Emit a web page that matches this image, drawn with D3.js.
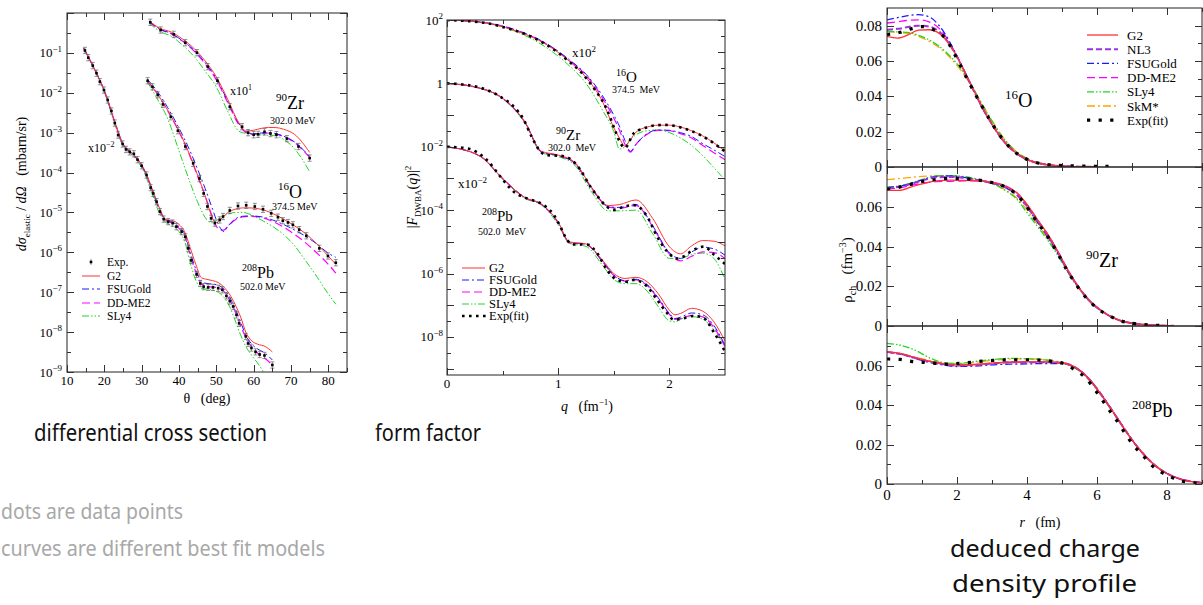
<!DOCTYPE html>
<html><head><meta charset="utf-8">
<script src="https://cdn.jsdelivr.net/npm/d3@7/dist/d3.min.js"></script>
<style>body{margin:0;background:#fff}svg{display:block}</style>
</head><body>
<svg id="chart" width="1203" height="605"></svg>
<script>
// ================= DATA =================
// ---- Panel 1: differential cross section (mbarn/sr) vs theta (deg) ----
// 90Zr (x10^1)
const csZrExpTheta = [32.3, 35.1, 38.6, 41.7, 44.8, 47.7, 50.3, 53.6, 56.9, 58.5, 60.0, 61.2, 62.9, 64.5, 66.1, 68.9, 72.0, 75.0];
const csZrExp      = [5.85e-1, 3.75e-1, 2.92e-1, 1.80e-1, 1.01e-1, 4.52e-2, 2.0e-2, 4.47e-3, 1.41e-3, 1.0e-3, 8.9e-4, 9.1e-4, 1.05e-3, 9.5e-4, 8.9e-4, 7.1e-4, 4.5e-4, 2.3e-4];
const csZrTheta = [32, 35, 38, 41, 44, 47, 50, 53, 56, 58, 60, 62, 64, 66, 68, 71, 75];
const csZrG2    = [6.3e-1, 4.1e-1, 3.3e-1, 2.2e-1, 1.3e-1, 6.3e-2, 2.5e-2, 7.0e-3, 1.8e-3, 1.1e-3, 1.15e-3, 1.28e-3, 1.35e-3, 1.34e-3, 1.22e-3, 9.0e-4, 3.2e-4];
const csZrFSU   = [6.1e-1, 3.9e-1, 3.05e-1, 2.0e-1, 1.18e-1, 5.7e-2, 2.3e-2, 6.3e-3, 1.7e-3, 1.05e-3, 9.4e-4, 9.8e-4, 1.0e-3, 9.4e-4, 8.2e-4, 5.8e-4, 2.5e-4];
const csZrDD    = [6.0e-1, 3.8e-1, 3.0e-1, 1.95e-1, 1.12e-1, 5.3e-2, 2.1e-2, 5.8e-3, 1.6e-3, 1.0e-3, 9.2e-4, 9.6e-4, 9.8e-4, 9.2e-4, 8.0e-4, 5.6e-4, 2.4e-4];
const csZrSLy4  = [5.6e-1, 3.4e-1, 2.6e-1, 1.55e-1, 8.2e-2, 3.5e-2, 1.4e-2, 3.5e-3, 1.1e-3, 9.5e-4, 9.0e-4, 8.8e-4, 8.6e-4, 8.3e-4, 6.8e-4, 3.9e-4, 1.05e-4];
// 16O (x1)
const csOExpTheta = [31.6, 32.9, 34.3, 35.7, 37.8, 39.7, 41.7, 43.8, 45.5, 46.6, 47.6, 48.6, 49.6, 50.9, 51.8, 53.6, 55.8, 58.0, 60.3, 62.5, 64.7, 66.5, 67.8, 69.2, 70.5, 72.2, 74.1, 77.6, 79.9, 82.0];
const csOExp      = [2.0e-2, 1.41e-2, 8.9e-3, 5.1e-3, 2.5e-3, 1.12e-3, 4.5e-4, 1.7e-4, 7.1e-5, 3.0e-5, 1.41e-5, 7.1e-6, 5.4e-6, 6.5e-6, 7.9e-6, 1.12e-5, 1.45e-5, 1.51e-5, 1.41e-5, 1.2e-5, 9.5e-6, 7.6e-6, 6.2e-6, 5.6e-6, 4.9e-6, 3.7e-6, 2.6e-6, 1.26e-6, 8.1e-7, 5.5e-7];
const csOTheta = [31.5, 34, 37, 40, 43, 45, 47, 48, 49, 50, 51, 52, 53, 55, 57, 59, 62, 65, 68, 71, 74, 77, 80, 82];
const csOG2    = [2.0e-2, 1.0e-2, 3.6e-3, 1.1e-3, 2.6e-4, 8.5e-5, 2.6e-5, 1.3e-5, 7.0e-6, 5.6e-6, 6.5e-6, 8.0e-6, 9.8e-6, 1.2e-5, 1.3e-5, 1.3e-5, 1.2e-5, 9.5e-6, 6.8e-6, 4.6e-6, 2.9e-6, 1.6e-6, 8.0e-7, 5.0e-7];
const csOFSU   = [2.2e-2, 1.15e-2, 4.2e-3, 1.3e-3, 3.4e-4, 1.2e-4, 4.0e-5, 2.2e-5, 1.2e-5, 6.5e-6, 4.2e-6, 3.3e-6, 4.4e-6, 6.8e-6, 8.0e-6, 8.2e-6, 7.8e-6, 6.5e-6, 5.0e-6, 3.6e-6, 2.5e-6, 1.6e-6, 9.5e-7, 7.5e-7];
const csODD    = [2.0e-2, 1.0e-2, 3.5e-3, 1.05e-3, 2.5e-4, 8.0e-5, 2.6e-5, 1.4e-5, 7.5e-6, 4.5e-6, 3.6e-6, 3.6e-6, 4.4e-6, 6.5e-6, 7.7e-6, 8.0e-6, 7.5e-6, 6.0e-6, 4.3e-6, 2.8e-6, 1.7e-6, 9.5e-7, 5.0e-7, 3.0e-7];
const csOSLy4  = [1.9e-2, 7.5e-3, 2.2e-3, 3.5e-4, 5.5e-5, 1.8e-5, 7.5e-6, 5.8e-6, 5.5e-6, 6.2e-6, 7.3e-6, 8.3e-6, 9.0e-6, 1.0e-5, 1.0e-5, 9.0e-6, 6.5e-6, 4.5e-6, 2.8e-6, 1.45e-6, 6.0e-7, 2.4e-7, 9.0e-8, 5.0e-8];
// 208Pb (x10^-2)
const csPbExpTheta = [14.8, 15.7, 16.9, 17.9, 18.8, 19.9, 20.9, 21.9, 22.8, 23.7, 24.9, 25.8, 26.8, 27.9, 28.9, 30.0, 31.3, 32.4, 33.1, 34.0, 34.9, 35.9, 37.1, 38.3, 39.3, 40.7, 41.7, 42.5, 43.3, 44.7, 45.7, 46.6, 47.8, 49.1, 50.5, 51.6, 52.7, 53.6, 54.5, 55.4, 56.1, 57.9, 58.5, 59.4, 60.5, 61.6, 62.9, 65.0];
const csPbExp      = [1.15e-1, 7.6e-2, 4.8e-2, 3.1e-2, 1.9e-2, 1.17e-2, 6.6e-3, 3.5e-3, 1.74e-3, 8.7e-4, 5.2e-4, 3.8e-4, 3.3e-4, 2.95e-4, 2.1e-4, 1.48e-4, 8.7e-5, 4.2e-5, 3.0e-5, 1.86e-5, 1.05e-5, 6.8e-6, 5.9e-6, 5.4e-6, 4.4e-6, 3.3e-6, 2.45e-6, 1.26e-6, 6.3e-7, 2.8e-7, 1.66e-7, 1.38e-7, 1.32e-7, 1.32e-7, 1.26e-7, 1.15e-7, 8.1e-8, 6.0e-8, 4.4e-8, 2.7e-8, 1.66e-8, 7.8e-9, 5.2e-9, 4.0e-9, 3.2e-9, 2.75e-9, 2.6e-9, 1.5e-9];
const csPbTheta = [14.5, 17, 20, 23, 25, 27, 29, 31, 33, 35, 36.5, 38, 40, 41.5, 43, 44.5, 46, 47.5, 49, 50.5, 52, 53.5, 55, 56.5, 58, 59.5, 61, 63, 65];
const csPbG2    = [1.3e-1, 4.6e-2, 1.12e-2, 1.65e-3, 5.3e-4, 3.4e-4, 2.15e-4, 1.05e-4, 3.5e-5, 1.15e-5, 6.6e-6, 6.3e-6, 5.0e-6, 3.3e-6, 1.3e-6, 5.0e-7, 2.3e-7, 2.1e-7, 1.95e-7, 1.75e-7, 1.35e-7, 9.0e-8, 5.0e-8, 2.4e-8, 9.5e-9, 6.0e-9, 5.0e-9, 4.4e-9, 3.2e-9];
const csPbFSU   = [1.3e-1, 4.6e-2, 1.12e-2, 1.62e-3, 5.1e-4, 3.3e-4, 2.1e-4, 1.0e-4, 3.3e-5, 1.05e-5, 6.6e-6, 5.9e-6, 4.4e-6, 2.9e-6, 1.0e-6, 3.8e-7, 1.9e-7, 1.65e-7, 1.6e-7, 1.5e-7, 1.2e-7, 7.7e-8, 4.0e-8, 1.8e-8, 8.0e-9, 5.0e-9, 3.8e-9, 3.0e-9, 2.0e-9];
const csPbDD    = [1.3e-1, 4.6e-2, 1.12e-2, 1.6e-3, 5.0e-4, 3.2e-4, 2.05e-4, 9.8e-5, 3.2e-5, 1.0e-5, 6.3e-6, 5.5e-6, 4.0e-6, 2.6e-6, 8.5e-7, 3.2e-7, 1.6e-7, 1.4e-7, 1.35e-7, 1.28e-7, 1.05e-7, 6.6e-8, 3.4e-8, 1.45e-8, 7.0e-9, 4.2e-9, 3.0e-9, 2.2e-9, 1.5e-9];
const csPbSLy4  = [1.3e-1, 4.5e-2, 1.05e-2, 1.45e-3, 4.6e-4, 3.0e-4, 1.9e-4, 8.5e-5, 2.6e-5, 8.5e-6, 5.6e-6, 4.8e-6, 3.3e-6, 1.9e-6, 5.5e-7, 2.0e-7, 1.25e-7, 1.2e-7, 1.12e-7, 1.0e-7, 7.5e-8, 4.5e-8, 2.0e-8, 8.5e-9, 4.2e-9, 2.6e-9, 1.7e-9, 9.0e-10, 5.0e-10];

// ---- Panel 2: form factor |F_DWBA(q)|^2 vs q (fm^-1) ----
// 16O (x10^2)
const ffOExpQ = [0, 0.18, 0.36, 0.54, 0.72, 0.90, 1.08, 1.20, 1.32, 1.44, 1.51, 1.56, 1.60, 1.68, 1.77, 1.86, 1.95, 2.04, 2.16, 2.28, 2.40, 2.50];
const ffOExp  = [100, 93, 79, 55, 34, 16.2, 5.5, 2.34, 0.71, 0.145, 0.034, 0.0129, 0.0092, 0.0269, 0.038, 0.047, 0.049, 0.046, 0.035, 0.0234, 0.0129, 0.0071];
const ffOQ   = [0, 0.3, 0.6, 0.9, 1.1, 1.25, 1.4, 1.5, 1.55, 1.6, 1.65, 1.7, 1.8, 1.9, 2.0, 2.1, 2.2, 2.3, 2.4, 2.5];
const ffOG2  = [100, 85, 48, 16.3, 5.0, 1.55, 0.26, 0.04, 0.019, 0.0105, 0.017, 0.029, 0.042, 0.048, 0.048, 0.042, 0.032, 0.022, 0.0133, 0.0073];
const ffOFSU = [100, 86, 51, 17.5, 5.6, 1.95, 0.40, 0.10, 0.045, 0.016, 0.0072, 0.012, 0.026, 0.034, 0.033, 0.028, 0.021, 0.0125, 0.008, 0.0049];
const ffODD  = [100, 86, 50.5, 17, 5.3, 1.8, 0.34, 0.08, 0.034, 0.012, 0.0068, 0.012, 0.025, 0.033, 0.032, 0.026, 0.019, 0.011, 0.0065, 0.0039];
const ffOSLy4= [100, 85, 46, 13, 3.6, 1.0, 0.14, 0.030, 0.0085, 0.010, 0.017, 0.024, 0.032, 0.034, 0.028, 0.019, 0.011, 0.0052, 0.0022, 0.0009];
// 90Zr (x1)
const ffZrExpQ = [0, 0.18, 0.36, 0.48, 0.60, 0.69, 0.76, 0.84, 0.90, 1.02, 1.11, 1.20, 1.29, 1.38, 1.42, 1.50, 1.59, 1.68, 1.80, 1.89, 1.98, 2.07, 2.13, 2.19, 2.31, 2.40, 2.50];
const ffZrExp  = [1, 0.89, 0.62, 0.38, 0.186, 0.071, 0.021, 7.1e-3, 5.4e-3, 5.2e-3, 4.1e-3, 1.86e-3, 5.5e-4, 2.1e-4, 1.45e-4, 1.02e-4, 1.29e-4, 1.45e-4, 6.3e-5, 1.45e-5, 5.0e-6, 3.0e-6, 3.5e-6, 4.9e-6, 7.1e-6, 4.0e-6, 2.0e-6];
const ffZrQ   = [0, 0.3, 0.5, 0.7, 0.85, 1.0, 1.15, 1.3, 1.45, 1.55, 1.7, 1.85, 2.0, 2.1, 2.2, 2.3, 2.4, 2.5];
const ffZrG2  = [1, 0.70, 0.34, 0.062, 0.0072, 0.0055, 3.2e-3, 5.3e-4, 1.4e-4, 1.5e-4, 2.1e-4, 5.5e-5, 7.0e-6, 4.2e-6, 7.5e-6, 1.1e-5, 1.05e-5, 7.5e-6];
const ffZrFSU = [1, 0.70, 0.34, 0.060, 0.0069, 0.0053, 3.0e-3, 5.0e-4, 1.3e-4, 1.22e-4, 1.5e-4, 3.2e-5, 4.5e-6, 3.0e-6, 4.8e-6, 6.8e-6, 6.0e-6, 3.8e-6];
const ffZrDD  = [1, 0.70, 0.34, 0.060, 0.0069, 0.0053, 3.0e-3, 4.9e-4, 1.27e-4, 1.15e-4, 1.4e-4, 3.0e-5, 4.2e-6, 2.5e-6, 3.5e-6, 4.8e-6, 4.6e-6, 3.0e-6];
const ffZrSLy4= [1, 0.69, 0.33, 0.056, 0.0065, 0.0049, 2.6e-3, 3.8e-4, 9.5e-5, 9.5e-5, 1.0e-4, 1.8e-5, 3.0e-6, 3.0e-6, 4.0e-6, 4.4e-6, 3.0e-6, 6.5e-7];
// 208Pb (x10^-2)
const ffPbExpQ = [0, 0.18, 0.36, 0.48, 0.60, 0.72, 0.84, 0.96, 1.02, 1.08, 1.14, 1.26, 1.35, 1.44, 1.53, 1.62, 1.68, 1.80, 1.89, 1.98, 2.04, 2.13, 2.22, 2.31, 2.40, 2.50];
const ffPbExp  = [1.0e-2, 8.9e-3, 3.8e-3, 1.15e-3, 3.8e-4, 2.35e-4, 1.66e-4, 7.1e-5, 3.0e-5, 1.15e-5, 8.3e-6, 8.3e-6, 4.4e-6, 1.29e-6, 6.3e-7, 5.5e-7, 6.3e-7, 3.9e-7, 1.48e-7, 5.6e-8, 3.5e-8, 3.9e-8, 4.6e-8, 3.9e-8, 1.41e-8, 3.5e-9];
const ffPbQ   = [0, 0.3, 0.5, 0.7, 0.85, 1.0, 1.1, 1.25, 1.4, 1.5, 1.6, 1.7, 1.8, 1.9, 2.0, 2.05, 2.1, 2.2, 2.3, 2.4, 2.5];
const ffPbG2  = [0.01, 5.0e-3, 1.0e-3, 2.5e-4, 1.55e-4, 4.2e-5, 1.0e-5, 8.6e-6, 2.6e-6, 1.0e-6, 7.0e-7, 7.6e-7, 5.5e-7, 2.3e-7, 7.0e-8, 5.0e-8, 5.5e-8, 8.0e-8, 6.5e-8, 3.0e-8, 7.5e-9];
const ffPbFSU = [0.01, 5.0e-3, 1.0e-3, 2.5e-4, 1.52e-4, 4.0e-5, 9.6e-6, 8.4e-6, 2.4e-6, 9.0e-7, 6.0e-7, 6.6e-7, 4.5e-7, 1.7e-7, 5.5e-8, 3.8e-8, 4.2e-8, 5.7e-8, 5.0e-8, 2.3e-8, 5.5e-9];
const ffPbDD  = [0.01, 5.0e-3, 1.0e-3, 2.5e-4, 1.5e-4, 4.0e-5, 9.5e-6, 8.3e-6, 2.35e-6, 8.7e-7, 5.8e-7, 6.3e-7, 4.2e-7, 1.6e-7, 5.2e-8, 3.6e-8, 3.8e-8, 4.8e-8, 4.3e-8, 2.0e-8, 5.0e-9];
const ffPbSLy4= [0.01, 4.9e-3, 9.5e-4, 2.35e-4, 1.45e-4, 3.5e-5, 9.0e-6, 7.2e-6, 1.8e-6, 6.5e-7, 4.8e-7, 4.8e-7, 2.8e-7, 9.0e-8, 3.2e-8, 3.0e-8, 3.6e-8, 4.4e-8, 3.6e-8, 1.7e-8, 5.0e-9];

// ---- Panel 3: charge density rho_ch (fm^-3) vs r (fm) ----
const rhoOExpR = [0, 0.35, 0.68, 1.01, 1.34, 1.66, 1.99, 2.28, 2.61, 2.94, 3.32, 3.80, 4.13, 4.47, 5.13, 6.4];
const rhoOExp  = [0.0750, 0.0761, 0.0782, 0.0795, 0.0776, 0.0730, 0.0616, 0.0503, 0.0380, 0.0266, 0.0153, 0.0064, 0.0034, 0.0017, 0.0007, 0.0003];
const rhoOR    = [0, 0.3, 0.6, 0.9, 1.2, 1.5, 1.8, 2.1, 2.4, 2.7, 3.0, 3.3, 3.6, 3.9, 4.2, 4.6, 5.0, 5.5, 6.0];
const rhoOG2   = [0.0739, 0.0730, 0.0748, 0.0775, 0.0777, 0.0755, 0.0690, 0.0585, 0.0465, 0.0345, 0.0243, 0.0155, 0.0093, 0.0052, 0.0028, 0.0012, 0.0005, 0.0002, 0.0001];
const rhoONL3  = [0.0777, 0.0782, 0.0792, 0.0800, 0.0795, 0.0765, 0.0690, 0.0585, 0.0463, 0.0345, 0.0243, 0.0155, 0.0093, 0.0052, 0.0028, 0.0012, 0.0005, 0.0002, 0.0001];
const rhoOFSU  = [0.0833, 0.0845, 0.0857, 0.0862, 0.0850, 0.0798, 0.0705, 0.0588, 0.0465, 0.0343, 0.0240, 0.0153, 0.0092, 0.0051, 0.0027, 0.0011, 0.0005, 0.0002, 0.0001];
const rhoODD   = [0.0815, 0.0822, 0.0830, 0.0833, 0.0822, 0.0782, 0.0700, 0.0588, 0.0465, 0.0345, 0.0242, 0.0155, 0.0093, 0.0052, 0.0028, 0.0012, 0.0005, 0.0002, 0.0001];
const rhoOSLy4 = [0.0767, 0.0765, 0.0762, 0.0745, 0.0720, 0.0682, 0.0628, 0.0560, 0.0470, 0.0360, 0.0260, 0.0170, 0.0103, 0.0058, 0.0031, 0.0013, 0.0005, 0.0002, 0.0001];
const rhoOSkM  = [0.0767, 0.0762, 0.0755, 0.0740, 0.0712, 0.0675, 0.0620, 0.0550, 0.0465, 0.0362, 0.0263, 0.0173, 0.0105, 0.0060, 0.0032, 0.0014, 0.0006, 0.0002, 0.0001];

const rhoZrExpR = [0, 0.35, 0.69, 1.01, 1.34, 1.69, 2.04, 2.37, 2.73, 3.06, 3.39, 3.68, 3.90, 4.09, 4.28, 4.49, 4.68, 4.85, 5.01, 5.18, 5.37, 5.56, 5.78, 6.04, 6.32, 6.66, 6.99, 7.32, 7.66, 7.99];
const rhoZrExp  = [0.0690, 0.0699, 0.0714, 0.0727, 0.0736, 0.0742, 0.0742, 0.0739, 0.0731, 0.0719, 0.0699, 0.0665, 0.0623, 0.0576, 0.0525, 0.0475, 0.0425, 0.0374, 0.0323, 0.0269, 0.0218, 0.0170, 0.0126, 0.0084, 0.0055, 0.0027, 0.0014, 0.0007, 0.0004, 0.0002];
const rhoZrR    = [0, 0.35, 0.7, 1.0, 1.4, 1.8, 2.2, 2.6, 3.0, 3.4, 3.7, 4.0, 4.3, 4.6, 4.9, 5.2, 5.5, 5.8, 6.2, 6.6, 7.0, 7.5, 8.2];
const rhoZrG2   = [0.0682, 0.0682, 0.0700, 0.0715, 0.0730, 0.0734, 0.0733, 0.0730, 0.0722, 0.0703, 0.0672, 0.0612, 0.0535, 0.0460, 0.0370, 0.0272, 0.0190, 0.0125, 0.0068, 0.0032, 0.0014, 0.0005, 0.0001];
const rhoZrNL3  = [0.0694, 0.0700, 0.0715, 0.0731, 0.0748, 0.0750, 0.0745, 0.0733, 0.0719, 0.0697, 0.0662, 0.0603, 0.0527, 0.0452, 0.0364, 0.0268, 0.0188, 0.0124, 0.0068, 0.0031, 0.0014, 0.0005, 0.0001];
const rhoZrFSU  = [0.0697, 0.0703, 0.0718, 0.0735, 0.0752, 0.0755, 0.0748, 0.0735, 0.0720, 0.0695, 0.0660, 0.0598, 0.0522, 0.0447, 0.0360, 0.0266, 0.0187, 0.0123, 0.0067, 0.0031, 0.0014, 0.0005, 0.0001];
const rhoZrDD   = [0.0690, 0.0695, 0.0708, 0.0718, 0.0726, 0.0728, 0.0730, 0.0730, 0.0723, 0.0704, 0.0672, 0.0612, 0.0535, 0.0460, 0.0370, 0.0272, 0.0190, 0.0125, 0.0068, 0.0032, 0.0014, 0.0005, 0.0001];
const rhoZrSLy4 = [0.0697, 0.0705, 0.0720, 0.0737, 0.0755, 0.0757, 0.0752, 0.0738, 0.0718, 0.0680, 0.0640, 0.0570, 0.0500, 0.0430, 0.0350, 0.0262, 0.0187, 0.0125, 0.0069, 0.0032, 0.0014, 0.0005, 0.0001];
const rhoZrSkM  = [0.0736, 0.0742, 0.0748, 0.0753, 0.0756, 0.0755, 0.0748, 0.0735, 0.0715, 0.0683, 0.0645, 0.0585, 0.0510, 0.0440, 0.0355, 0.0262, 0.0185, 0.0122, 0.0067, 0.0031, 0.0014, 0.0005, 0.0001];

const rhoPbExpR = [0, 0.37, 0.69, 1.04, 1.39, 1.71, 2.06, 2.39, 2.72, 3.07, 3.42, 3.77, 4.11, 4.45, 4.78, 5.11, 5.40, 5.69, 5.89, 6.09, 6.28, 6.49, 6.68, 6.87, 7.06, 7.28, 7.53, 7.80, 8.09, 8.37, 8.71, 9.0];
const rhoPbExp  = [0.0633, 0.0631, 0.0621, 0.0616, 0.0611, 0.0607, 0.0611, 0.0616, 0.0622, 0.0626, 0.0629, 0.0629, 0.0629, 0.0627, 0.0619, 0.0606, 0.0573, 0.0535, 0.0489, 0.0442, 0.0391, 0.0341, 0.0290, 0.0239, 0.0192, 0.0152, 0.0100, 0.0064, 0.0037, 0.0017, 0.0007, 0.0004];
const rhoPbR    = [0, 0.4, 0.8, 1.2, 1.6, 2.0, 2.5, 3.0, 3.5, 4.0, 4.5, 5.0, 5.3, 5.6, 5.9, 6.2, 6.5, 6.8, 7.1, 7.4, 7.7, 8.0, 8.4, 9.0];
const rhoPbG2   = [0.0670, 0.0660, 0.0640, 0.0622, 0.0610, 0.0603, 0.0605, 0.0612, 0.0617, 0.0618, 0.0618, 0.0614, 0.0598, 0.0562, 0.0505, 0.0432, 0.0354, 0.0274, 0.0200, 0.0138, 0.0088, 0.0053, 0.0024, 0.0007];
const rhoPbNL3  = [0.0668, 0.0658, 0.0638, 0.0620, 0.0607, 0.0600, 0.0603, 0.0610, 0.0616, 0.0617, 0.0617, 0.0613, 0.0598, 0.0562, 0.0505, 0.0433, 0.0355, 0.0275, 0.0200, 0.0138, 0.0088, 0.0053, 0.0024, 0.0007];
const rhoPbFSU  = [0.0668, 0.0657, 0.0636, 0.0616, 0.0603, 0.0595, 0.0597, 0.0603, 0.0607, 0.0608, 0.0610, 0.0610, 0.0597, 0.0563, 0.0507, 0.0435, 0.0356, 0.0276, 0.0201, 0.0139, 0.0089, 0.0053, 0.0024, 0.0007];
const rhoPbDD   = [0.0668, 0.0659, 0.0640, 0.0621, 0.0608, 0.0602, 0.0604, 0.0611, 0.0616, 0.0617, 0.0617, 0.0613, 0.0598, 0.0562, 0.0505, 0.0432, 0.0354, 0.0274, 0.0200, 0.0138, 0.0088, 0.0053, 0.0024, 0.0007];
const rhoPbSLy4 = [0.0712, 0.0702, 0.0678, 0.0640, 0.0615, 0.0610, 0.0620, 0.0630, 0.0636, 0.0634, 0.0628, 0.0612, 0.0594, 0.0557, 0.0500, 0.0428, 0.0350, 0.0272, 0.0199, 0.0138, 0.0088, 0.0053, 0.0024, 0.0007];
const rhoPbSkM  = [0.0668, 0.0660, 0.0643, 0.0626, 0.0614, 0.0610, 0.0616, 0.0626, 0.0632, 0.0634, 0.0630, 0.0616, 0.0598, 0.0560, 0.0502, 0.0430, 0.0352, 0.0273, 0.0199, 0.0138, 0.0088, 0.0053, 0.0024, 0.0007];

// tick labels
const csXTicks = [10, 20, 30, 40, 50, 60, 70, 80];
const csYExps = [-1, -2, -3, -4, -5, -6, -7, -8, -9];
const ffXTicks = [0, 1, 2];
const ffYExps = [2, 0, -2, -4, -6, -8];
const rhoXTicks = [0, 2, 4, 6, 8];

// ================= DRAWING =================
const SERIF = "'Liberation Serif','Times New Roman',serif";
const HAND = "'Noto Sans','Open Sans',sans-serif";
const svg = d3.select('#chart');
svg.append('rect').attr('width',1203).attr('height',605).attr('fill','#fff');

const ST = {
  G2:   {c:'#ff3333', w:1,   d:null},
  NL3:  {c:'#9c33dc', w:2,   d:'6,3'},
  FSU:  {c:'#1a1aff', w:1,   d:'7,3,2,3'},
  DD:   {c:'#ff00ff', w:1.2, d:'8,4'},
  SLy4: {c:'#22d622', w:1,   d:'7,2,1.5,2,1.5,2'},
  SkM:  {c:'#ffa500', w:1.2, d:'8,3,2,3'}
};

function rich(parent, x, y, segs, size, anchor) {
  const t = parent.append('text').attr('x', x).attr('y', y)
    .attr('font-family', SERIF).attr('font-size', size)
    .attr('text-anchor', anchor || 'start').style('white-space', 'pre').attr('fill', '#000');
  let cur = 0;
  segs.forEach(s => {
    let shift = 0, fs = size;
    if (s.sup) { shift = -size * 0.42; fs = s.fs || Math.round(size * 0.68); }
    if (s.sub) { shift = size * 0.28; fs = s.fs || Math.round(size * 0.68); }
    const sp = t.append('tspan').attr('dy', shift - cur).attr('font-size', fs).text(s.t);
    if (s.it) sp.attr('font-style', 'italic');
    cur = shift;
  });
  return t;
}

let clipId = 0;
function clipGroup(x0, x1, y0, y1) {
  const id = 'clip' + (clipId++);
  svg.append('clipPath').attr('id', id).append('rect')
    .attr('x', x0).attr('y', y0).attr('width', x1 - x0).attr('height', y1 - y0);
  return svg.append('g').attr('clip-path', `url(#${id})`);
}

function curve(g, xs, ys, sx, sy, st) {
  const pts = xs.map((x, i) => [x, ys[i]]);
  g.append('path').datum(pts)
    .attr('d', d3.line().x(d => sx(d[0])).y(d => sy(d[1])).curve(d3.curveMonotoneX))
    .attr('fill', 'none').attr('stroke', st.c).attr('stroke-width', st.w)
    .attr('stroke-dasharray', st.d).attr('stroke-linejoin', 'round');
}
function expDotted(g, xs, ys, sx, sy, w, dash) {
  const pts = xs.map((x, i) => [x, ys[i]]);
  g.append('path').datum(pts)
    .attr('d', d3.line().x(d => sx(d[0])).y(d => sy(d[1])).curve(d3.curveMonotoneX))
    .attr('fill', 'none').attr('stroke', '#000').attr('stroke-width', w)
    .attr('stroke-dasharray', dash);
}

function frame(x0, x1, y0, y1) {
  svg.append('rect').attr('x', x0).attr('y', y0).attr('width', x1 - x0).attr('height', y1 - y0)
    .attr('fill', 'none').attr('stroke', '#222').attr('stroke-width', 1);
}
function xTicks(sx, vals, y0, y1, len, both) {
  const g = svg.append('g').attr('stroke', '#333').attr('stroke-width', 1);
  vals.forEach(v => {
    const x = Math.round(sx(v)) + 0.5;
    g.append('line').attr('x1', x).attr('x2', x).attr('y1', y1).attr('y2', y1 - len);
    if (both) g.append('line').attr('x1', x).attr('x2', x).attr('y1', y0).attr('y2', y0 + len);
  });
}
function yTicks(sy, vals, x0, x1, len) {
  const g = svg.append('g').attr('stroke', '#333').attr('stroke-width', 1);
  vals.forEach(v => {
    const y = Math.round(sy(v)) + 0.5;
    g.append('line').attr('x1', x0).attr('x2', x0 + len).attr('y1', y).attr('y2', y);
    g.append('line').attr('x1', x1).attr('x2', x1 - len).attr('y1', y).attr('y2', y);
  });
}

// ---------- Panel 1 ----------
{
  const x0 = 67, x1 = 347, y0 = 13, y1 = 372;
  const sx = d3.scaleLinear().domain([10, 85]).range([x0, x1]);
  const sy = d3.scaleLog().domain([1e-9, 1]).range([y1, y0]);
  const g = clipGroup(x0, x1, y0, y1);
  const sets = [
    [csZrTheta, [csZrSLy4, csZrDD, csZrFSU, csZrG2]],
    [csOTheta,  [csOSLy4, csODD, csOFSU, csOG2]],
    [csPbTheta, [csPbSLy4, csPbDD, csPbFSU, csPbG2]]
  ];
  const styles = [ST.SLy4, ST.DD, ST.FSU, ST.G2];
  sets.forEach(([xs, ysList]) => ysList.forEach((ys, i) => curve(g, xs, ys, sx, sy, styles[i])));
  const exps = [[csZrExpTheta, csZrExp], [csOExpTheta, csOExp], [csPbExpTheta, csPbExp]];
  exps.forEach(([xs, ys]) => {
    xs.forEach((t, i) => {
      const cx = sx(t), v = ys[i];
      const ya = sy(v * 1.2), yb = sy(v / 1.2);
      g.append('line').attr('x1', cx).attr('x2', cx).attr('y1', ya).attr('y2', yb).attr('stroke', '#666').attr('stroke-width', 0.7);
      g.append('line').attr('x1', cx - 2).attr('x2', cx + 2).attr('y1', ya).attr('y2', ya).attr('stroke', '#666').attr('stroke-width', 0.7);
      g.append('line').attr('x1', cx - 2).attr('x2', cx + 2).attr('y1', yb).attr('y2', yb).attr('stroke', '#666').attr('stroke-width', 0.7);
      g.append('rect').attr('x', cx - 1.3).attr('y', sy(v) - 1.3).attr('width', 2.6).attr('height', 2.6).attr('fill', '#000');
    });
  });
  frame(x0, x1, y0, y1);
  xTicks(sx, d3.range(10, 81, 10), y0, y1, 7, true);
  xTicks(sx, d3.range(15, 86, 5).filter(v => v % 10 !== 0), y0, y1, 4, true);
  const dec = d3.range(-9, 1).map(e => Math.pow(10, e));
  yTicks(sy, dec, x0, x1, 7);
  yTicks(sy, d3.range(-9, 0).map(e => Math.pow(10, e + 0.5)), x0, x1, 4);
  csXTicks.forEach(v => rich(svg, sx(v), 385, [{t: String(v)}], 13, 'middle'));
  csYExps.forEach(e => rich(svg, 62, sy(Math.pow(10, e)) + 4.5, [{t: '10'}, {t: '\u2212' + (-e), sup: true, fs: 9}], 13, 'end'));
  rich(svg, 207, 403, [{t: '\u03b8'}, {t: '   (deg)'}], 14, 'middle');
  const ty = svg.append('g').attr('transform', 'translate(26,184) rotate(-90)');
  rich(ty, 0, 0, [{t: 'd\u03c3', it: true}, {t: 'elastic', sub: true, fs: 9}, {t: ' / '}, {t: 'd\u03a9', it: true}, {t: '   (mbarn/sr)'}], 14, 'middle');
  // annotations
  rich(svg, 230, 95, [{t: 'x10'}, {t: '1', sup: true, fs: 8}], 12);
  rich(svg, 276, 109, [{t: '90', sup: true, fs: 11}, {t: 'Zr'}], 18);
  rich(svg, 270, 124, [{t: '302.0 MeV'}], 10);
  rich(svg, 278, 198, [{t: '16', sup: true, fs: 11}, {t: 'O'}], 18);
  rich(svg, 272, 210, [{t: '374.5 MeV'}], 10);
  rich(svg, 242, 278, [{t: '208', sup: true, fs: 10}, {t: 'Pb'}], 16);
  rich(svg, 240, 290, [{t: '502.0 MeV'}], 10);
  rich(svg, 88, 152, [{t: 'x10'}, {t: '\u22122', sup: true, fs: 8}], 12);
  // legend
  const lg = svg.append('g');
  const ly = [262, 276, 289, 303, 316];
  lg.append('line').attr('x1', 91).attr('x2', 91).attr('y1', ly[0] - 3).attr('y2', ly[0] + 3).attr('stroke', '#666').attr('stroke-width', 0.7);
  lg.append('rect').attr('x', 89.7).attr('y', ly[0] - 1.3).attr('width', 2.6).attr('height', 2.6).attr('fill', '#000');
  const lst = [ST.G2, ST.FSU, ST.DD, ST.SLy4];
  lst.forEach((s, i) => lg.append('line').attr('x1', 82).attr('x2', 100).attr('y1', ly[i + 1]).attr('y2', ly[i + 1])
    .attr('stroke', s.c).attr('stroke-width', s.w).attr('stroke-dasharray', s.d));
  ['Exp.', 'G2', 'FSUGold', 'DD-ME2', 'SLy4'].forEach((t, i) => rich(lg, 107, ly[i] + 4, [{t}], 11.5));
}

// ---------- Panel 2 ----------
{
  const x0 = 447, x1 = 725, y0 = 20, y1 = 375;
  const sx = d3.scaleLinear().domain([0, 2.5]).range([x0, x1]);
  const sy = d3.scaleLog().domain([6.3e-10, 100]).range([y1, y0]);
  const g = clipGroup(x0, x1, y0, y1);
  const sets = [
    [ffOQ,  [ffOSLy4, ffODD, ffOFSU, ffOG2],   ffOExpQ, ffOExp],
    [ffZrQ, [ffZrSLy4, ffZrDD, ffZrFSU, ffZrG2], ffZrExpQ, ffZrExp],
    [ffPbQ, [ffPbSLy4, ffPbDD, ffPbFSU, ffPbG2], ffPbExpQ, ffPbExp]
  ];
  const styles = [ST.SLy4, ST.DD, ST.FSU, ST.G2];
  sets.forEach(([xs, ysList, ex, ey]) => {
    ysList.forEach((ys, i) => curve(g, xs, ys, sx, sy, styles[i]));
    expDotted(g, ex, ey, sx, sy, 2.6, '2.6,4.4');
  });
  frame(x0, x1, y0, y1);
  xTicks(sx, [0, 1, 2], y0, y1, 7, true);
  xTicks(sx, [0.5, 1.5], y0, y1, 4, true);
  yTicks(sy, d3.range(-9, 3).map(e => Math.pow(10, e)), x0, x1, 7);
  yTicks(sy, d3.range(-9, 2).map(e => Math.pow(10, e + 0.5)), x0, x1, 4);
  ffXTicks.forEach(v => rich(svg, sx(v), 388, [{t: String(v)}], 13, 'middle'));
  ffYExps.forEach(e => {
    const y = sy(Math.pow(10, e)) + 4.5;
    if (e === 0) rich(svg, 443, y, [{t: '1'}], 13, 'end');
    else rich(svg, 443, y, [{t: '10'}, {t: e < 0 ? '\u2212' + (-e) : String(e), sup: true, fs: 9}], 13, 'end');
  });
  rich(svg, 587, 411, [{t: 'q', it: true}, {t: '   (fm'}, {t: '\u22121', sup: true, fs: 9}, {t: ')'}], 14, 'middle');
  const ty = svg.append('g').attr('transform', 'translate(417,197) rotate(-90)');
  rich(ty, 0, 0, [{t: '|'}, {t: 'F', it: true}, {t: 'DWBA', sub: true, fs: 9}, {t: '('}, {t: 'q', it: true}, {t: ')|'}, {t: '2', sup: true, fs: 9}], 14, 'middle');
  rich(svg, 572, 57, [{t: 'x10'}, {t: '2', sup: true, fs: 9}], 13);
  rich(svg, 616, 82, [{t: '16', sup: true, fs: 10}, {t: 'O'}], 15);
  rich(svg, 612, 93, [{t: '374.5  MeV'}], 10);
  rich(svg, 556, 140, [{t: '90', sup: true, fs: 10}, {t: 'Zr'}], 15);
  rich(svg, 548, 151, [{t: '302.0  MeV'}], 10);
  rich(svg, 458, 188, [{t: 'x10'}, {t: '\u22122', sup: true, fs: 9}], 13);
  rich(svg, 482, 221, [{t: '208', sup: true, fs: 10}, {t: 'Pb'}], 15);
  rich(svg, 478, 235, [{t: '502.0  MeV'}], 10);
  const lg = svg.append('g');
  const ly = [268, 280, 292, 304, 316];
  [ST.G2, ST.FSU, ST.DD, ST.SLy4].forEach((s, i) => lg.append('line').attr('x1', 462).attr('x2', 485).attr('y1', ly[i]).attr('y2', ly[i])
    .attr('stroke', s.c).attr('stroke-width', s.w).attr('stroke-dasharray', s.d));
  lg.append('line').attr('x1', 462).attr('x2', 486).attr('y1', ly[4]).attr('y2', ly[4]).attr('stroke', '#000').attr('stroke-width', 2.6).attr('stroke-dasharray', '2.6,4.4');
  ['G2', 'FSUGold', 'DD-ME2', 'SLy4', 'Exp(fit)'].forEach((t, i) => rich(lg, 489, ly[i] + 4, [{t}], 12.5));
}

// ---------- Panel 3 ----------
{
  const x0 = 887, x1 = 1202;
  const sx = d3.scaleLinear().domain([0, 9]).range([x0, x1]);
  const panels = [
    {y0: 8,   y1: 167, max: 0.09, R: rhoOR,  M: [rhoOSkM, rhoOSLy4, rhoODD, rhoOFSU, rhoONL3, rhoOG2], ER: rhoOExpR, E: rhoOExp, labels: [0, 0.02, 0.04, 0.06, 0.08]},
    {y0: 167, y1: 326, max: 0.08, R: rhoZrR, M: [rhoZrSkM, rhoZrSLy4, rhoZrDD, rhoZrFSU, rhoZrNL3, rhoZrG2], ER: rhoZrExpR, E: rhoZrExp, labels: [0, 0.02, 0.04, 0.06]},
    {y0: 326, y1: 484, max: 0.08, R: rhoPbR, M: [rhoPbSkM, rhoPbSLy4, rhoPbDD, rhoPbFSU, rhoPbNL3, rhoPbG2], ER: rhoPbExpR, E: rhoPbExp, labels: [0, 0.02, 0.04, 0.06]}
  ];
  const styles = [ST.SkM, ST.SLy4, ST.DD, ST.FSU, ST.NL3, ST.G2].map(s => Object.assign({}, s, {w: s === ST.NL3 ? 2 : 1.3}));
  panels.forEach((p) => {
    const sy = d3.scaleLinear().domain([0, p.max]).range([p.y1, p.y0]);
    const g = clipGroup(x0, x1, p.y0, p.y1);
    p.M.forEach((ys, i) => curve(g, p.R, ys, sx, sy, styles[i]));
    expDotted(g, p.ER, p.E, sx, sy, 3.2, '3.2,8.4');
    frame(x0, x1, p.y0, p.y1);
    xTicks(sx, [0, 2, 4, 6, 8], p.y0, p.y1, 7, true);
    xTicks(sx, [1, 3, 5, 7, 9], p.y0, p.y1, 4, true);
    yTicks(sy, d3.range(0, p.max + 1e-9, 0.02), x0, x1, 7);
    yTicks(sy, d3.range(0.01, p.max, 0.02), x0, x1, 4);
    p.labels.forEach(v => rich(svg, 882, sy(v) + 5, [{t: v === 0 ? '0' : d3.format('.2f')(v)}], 15, 'end'));
  });
  rhoXTicks.forEach(v => rich(svg, sx(v), 500, [{t: String(v)}], 15, 'middle'));
  rich(svg, 1040, 527, [{t: 'r', it: true}, {t: '   (fm)'}], 14, 'middle');
  const ty = svg.append('g').attr('transform', 'translate(852,270) rotate(-90)');
  rich(ty, 0, 0, [{t: '\u03c1'}, {t: 'ch', sub: true, fs: 10}, {t: '   (fm'}, {t: '\u22123', sup: true, fs: 10}, {t: ')'}], 15, 'middle');
  rich(svg, 1005, 107, [{t: '16', sup: true, fs: 13}, {t: 'O'}], 20);
  rich(svg, 1086, 267, [{t: '90', sup: true, fs: 13}, {t: 'Zr'}], 20);
  rich(svg, 1132, 417, [{t: '208', sup: true, fs: 13}, {t: 'Pb'}], 20);
  // legend
  const lg = svg.append('g');
  const names = ['G2', 'NL3', 'FSUGold', 'DD-ME2', 'SLy4', 'SkM*', 'Exp(fit)'];
  const lst = [ST.G2, ST.NL3, ST.FSU, ST.DD, ST.SLy4, ST.SkM];
  names.forEach((n, i) => {
    const y = 35 + i * 14.2;
    if (i < 6) lg.append('line').attr('x1', 1087).attr('x2', 1118).attr('y1', y).attr('y2', y)
      .attr('stroke', lst[i].c).attr('stroke-width', i === 1 ? 2 : 1.3).attr('stroke-dasharray', lst[i].d);
    else lg.append('line').attr('x1', 1087).attr('x2', 1120).attr('y1', y).attr('y2', y)
      .attr('stroke', '#000').attr('stroke-width', 3.2).attr('stroke-dasharray', '3.2,8.4');
    rich(lg, 1127, y + 4.5, [{t: n}], 13);
  });
}

// ---------- handwritten-style captions ----------
function caption(x, y, txt, w, color, size) {
  svg.append('text').attr('x', x).attr('y', y).text(txt)
    .attr('font-family', HAND).attr('font-size', size).attr('fill', color)
    .attr('textLength', w).attr('lengthAdjust', 'spacingAndGlyphs');
}
caption(34, 441, 'differential cross section', 233, '#111', 23);
caption(375, 441, 'form factor', 106, '#111', 23);
caption(1, 519, 'dots are data points', 182, '#a8a8a8', 22);
caption(1, 556, 'curves are different best fit models', 324, '#a8a8a8', 22);
caption(950, 557, 'deduced charge', 190, '#111', 23);
caption(952, 592, 'density profile', 185, '#111', 23);
</script>
</body></html>
